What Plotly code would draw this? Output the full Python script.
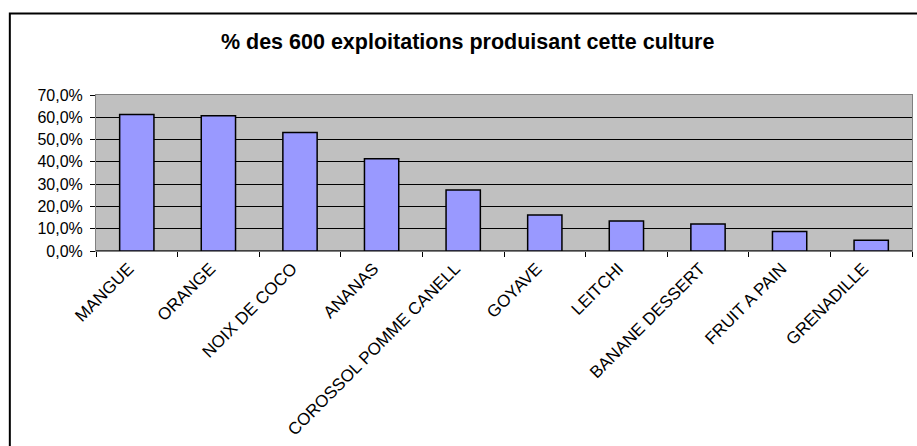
import plotly.graph_objects as go

# share of the 600 farms growing each crop
cultures = [
    "MANGUE", "ORANGE", "NOIX DE COCO", "ANANAS", "COROSSOL POMME CANELL",
    "GOYAVE", "LEITCHI", "BANANE DESSERT", "FRUIT A PAIN", "GRENADILLE",
]
part = [0.613, 0.607, 0.532, 0.414, 0.274, 0.162, 0.135, 0.121, 0.088, 0.048]

y_ticks = [0, 0.1, 0.2, 0.3, 0.4, 0.5, 0.6, 0.7]

fig = go.Figure()

fig.add_trace(go.Bar(
    x=cultures, y=part,
    marker=dict(color="#9999ff", line=dict(color="#000000", width=1.5)),
    showlegend=False,
))

# outer chart frame (Excel style), only top/left visible in the window
fig.add_shape(
    type="rect", xref="paper", yref="paper",
    x0=-0.1056, x1=1.02, y0=-1.4, y1=1.522,
    line=dict(color="#000000", width=2), layer="above",
)

fig.update_layout(
    title=dict(
        text="<b>% des 600 exploitations produisant cette culture</b>",
        x=0.51, xanchor="center", y=0.906, yanchor="middle",
        font=dict(family="Liberation Sans, Arial, sans-serif", size=21.5, color="#000000"),
    ),
    width=917, height=446,
    margin=dict(l=96, r=5, t=95, b=195),
    plot_bgcolor="#c0c0c0",
    paper_bgcolor="white",
    separators=", ",
    bargap=0.58,
    font=dict(family="Liberation Sans, Arial, sans-serif", size=16, color="#000000"),
    xaxis=dict(
        automargin=False,
        tickangle=-45,
        tickfont=dict(size=17),
        ticklabelshift=-8,
        ticks="outside", ticklen=5, tickcolor="#000000",
        tickson="boundaries",
        showline=True, linecolor="#808080", linewidth=1, mirror=True,
        showgrid=False,
    ),
    yaxis=dict(
        automargin=False,
        range=[0, 0.7],
        tickvals=y_ticks,
        tickformat=".1%",
        ticks="outside", ticklen=5, tickcolor="#000000",
        ticklabelstandoff=4,
        showline=True, linecolor="#808080", linewidth=1, mirror=True,
        showgrid=True, gridcolor="#000000", gridwidth=1,
        zeroline=True, zerolinecolor="#404040", zerolinewidth=2,
    ),
)

# drop the default page margin so the figure sits at the window's corner
fig.write_html(
    "out.html",
    config={"displayModeBar": False},
    post_script="document.body.style.margin='0';",
)
